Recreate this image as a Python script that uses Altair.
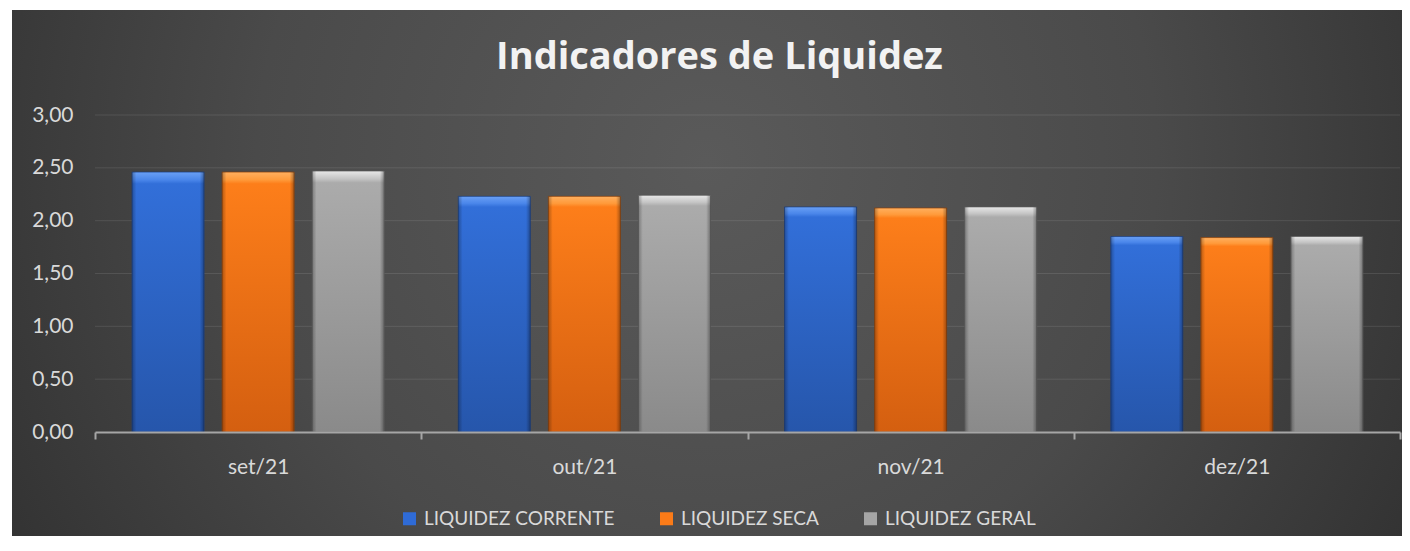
import altair as alt
import pandas as pd

# ---- data ----
MONTHS = ["set/21", "out/21", "nov/21", "dez/21"]
SERIES = ["LIQUIDEZ CORRENTE", "LIQUIDEZ SECA", "LIQUIDEZ GERAL"]
CORRENTE = [2.46, 2.23, 2.13, 1.85]
SECA = [2.46, 2.23, 2.12, 1.84]
GERAL = [2.47, 2.24, 2.13, 1.85]
Y_TICKS = [0.0, 0.5, 1.0, 1.5, 2.0, 2.5, 3.0]
GRID = [0.5, 1.0, 1.5, 2.0, 2.5, 3.0]

rows = []
for s, vals in zip(SERIES, [CORRENTE, SECA, GERAL]):
    for m, v in zip(MONTHS, vals):
        rows.append({"mes": m, "serie": s, "valor": v})
df = pd.DataFrame(rows)

# ---- layout ----
W, H = 1305, 317
PAD = {"left": 87, "top": 107, "right": 2, "bottom": 104}

FLAT = ["#2f6bd6", "#fb7b18", "#a5a5a5"]


def grad(top, top2, main, bottom):
    return alt.LinearGradient(
        gradient="linear", x1=0, x2=0, y1=0, y2=1,
        stops=[
            alt.GradientStop(offset=0, color=top),
            alt.GradientStop(offset=0.03, color=top2),
            alt.GradientStop(offset=0.045, color=main),
            alt.GradientStop(offset=1, color=bottom),
        ],
    )


GRADS = [
    grad("#6aa0f5", "#4a86ea", "#326fd9", "#2656ab"),
    grad("#ffb060", "#ff9a3a", "#fd7e1a", "#d45f10"),
    grad("#e8e8e8", "#c4c4c4", "#ababab", "#8a8a8a"),
]
STROKES = ["#1a3d80", "#8a3f08", "#5a5a5a"]

# side bevel overlay: darker at the left and right edges of every bar
EDGE = alt.LinearGradient(
    gradient="linear", x1=0, x2=1, y1=0, y2=0,
    stops=[
        alt.GradientStop(offset=0, color="rgba(0,0,0,0.28)"),
        alt.GradientStop(offset=0.06, color="rgba(0,0,0,0)"),
        alt.GradientStop(offset=0.94, color="rgba(0,0,0,0)"),
        alt.GradientStop(offset=1, color="rgba(0,0,0,0.32)"),
    ],
)

bg_grad = alt.RadialGradient(
    gradient="radial", x1=0.5, y1=0.42, x2=0.5, y2=0.42, r1=0, r2=0.72,
    stops=[
        alt.GradientStop(offset=0, color="#5a5a5a"),
        alt.GradientStop(offset=0.45, color="#4a4a4a"),
        alt.GradientStop(offset=1, color="#252525"),
    ],
)

background = alt.Chart(pd.DataFrame({"bg": [0]})).mark_rect(
    fill=bg_grad, clip=False
).encode(
    x=alt.value(-83), x2=alt.value(1307), y=alt.value(-105), y2=alt.value(421)
)

grid = alt.Chart(pd.DataFrame({"v": GRID})).mark_rule(
    color="#ffffff", opacity=0.1, strokeWidth=1
).encode(y=alt.Y("v:Q", title=None))

x_enc = alt.X(
    "mes:N", sort=MONTHS, title=None,
    scale=alt.Scale(paddingInner=0, paddingOuter=0),
    axis=alt.Axis(
        labelAngle=0, labelFontSize=21, labelColor="#d9d9d9", labelFont="Lato",
        labelPadding=17, tickBand="extent", tickSize=7, tickColor="#a6a6a6",
        tickWidth=2, domainColor="#a6a6a6", domainWidth=2, grid=False, zindex=1,
    ),
)
xo_enc = alt.XOffset(
    "serie:N", sort=SERIES,
    scale=alt.Scale(domain=SERIES, paddingInner=0.2, paddingOuter=0.411),
)
y_enc = alt.Y(
    "valor:Q", title=None,
    scale=alt.Scale(domain=[0, 3], nice=False),
    axis=alt.Axis(
        values=Y_TICKS, grid=False, domain=False, ticks=False, tickSize=0,
        labelPadding=22, labelFontSize=21, labelColor="#d9d9d9", labelFont="Lato",
        labelExpr="replace(format(datum.value, '.2f'), '.', ',')", zindex=1,
    ),
)
color_enc = alt.Color(
    "serie:N", sort=SERIES,
    scale=alt.Scale(domain=SERIES, range=FLAT),
    legend=alt.Legend(
        title=None, orient="none", direction="horizontal",
        legendX=305, legendY=394, symbolType="square", symbolSize=169,
        symbolStrokeWidth=0, labelFontSize=19, labelColor="#d9d9d9",
        labelFont="Lato", labelOffset=5, columnPadding=42, labelLimit=0,
        padding=0,
    ),
)

bars = []
for s, g, st in zip(SERIES, GRADS, STROKES):
    bars.append(
        alt.Chart(df).transform_filter(alt.datum.serie == s).mark_bar(
            fill=g, stroke=st, strokeWidth=1, strokeOpacity=0.7
        ).encode(x=x_enc, xOffset=xo_enc, y=y_enc, color=color_enc)
    )

edges = alt.Chart(df).mark_bar(fill=EDGE, strokeWidth=0).encode(
    x=x_enc, xOffset=xo_enc, y=y_enc
)

chart = alt.layer(background, grid, *bars, edges).properties(
    width=W, height=H,
    autosize="none",
    padding=PAD,
    title=alt.TitleParams(
        "Indicadores de Liquidez", anchor="middle", dx=-28, fontSize=38,
        font="Open Sans", fontWeight="bold", color="#f2f2f2",
        baseline="alphabetic", offset=-97,
    ),
).configure(background="white").configure_view(stroke=None)

chart.save("out.html", embed_options={"renderer": "svg", "actions": False})
